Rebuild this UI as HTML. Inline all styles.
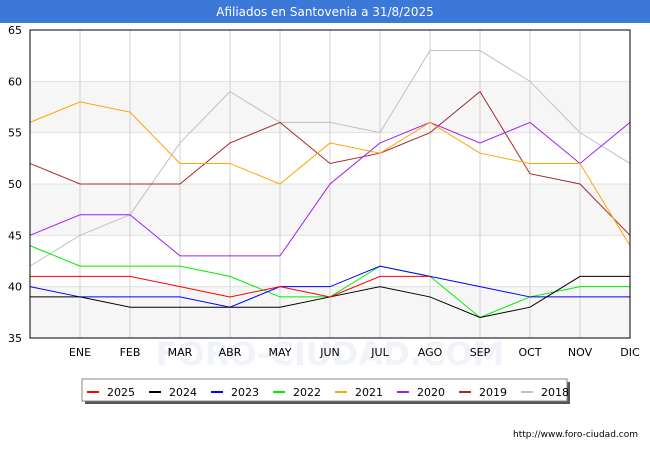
<!DOCTYPE html>
<html><head><meta charset="utf-8"><style>
body{margin:0;width:650px;height:450px;background:#fff;font-family:"DejaVu Sans",sans-serif;overflow:hidden}
</style></head><body>
<svg width="650" height="450" xmlns="http://www.w3.org/2000/svg" font-family="DejaVu Sans, sans-serif">
<rect x="0" y="0" width="650" height="23" fill="#3c78d8"/>
<text x="325" y="16" text-anchor="middle" fill="#fff" font-size="12">Afiliados en Santovenia a 31/8/2025</text>
<g id="plot"></g>
<text x="638" y="437" text-anchor="end" font-size="9" fill="#000">http://www.foro-ciudad.com</text>
</svg>
<script>
const months=["","ENE","FEB","MAR","ABR","MAY","JUN","JUL","AGO","SEP","OCT","NOV","DIC"];
const yTicks=[35,40,45,50,55,60,65];
const seriesNames=["2025","2024","2023","2022","2021","2020","2019","2018"];
const colors=["#ff0000","#000000","#0000ff","#00ee00","#ffa500","#a020f0","#a52a2a","#c0c0c0"];
const s2025=[41,41,41,40,39,40,39,41,41];
const s2024=[39,39,38,38,38,38,39,40,39,37,38,41,41];
const s2023=[40,39,39,39,38,40,40,42,41,40,39,39,39];
const s2022=[44,42,42,42,41,39,39,42,41,37,39,40,40];
const s2021=[56,58,57,52,52,50,54,53,56,53,52,52,44];
const s2020=[45,47,47,43,43,43,50,54,56,54,56,52,56];
const s2019=[52,50,50,50,54,56,52,53,55,59,51,50,45];
const s2018=[42,45,47,54,59,56,56,55,63,63,60,55,52];
const allSeries=[s2025,s2024,s2023,s2022,s2021,s2020,s2019,s2018];
const NS="http://www.w3.org/2000/svg";
const X0=30,X1=630,Y0=338,Y1=30;
const xs=i=>X0+i*(X1-X0)/12;
const ys=v=>Y0-(v-35)*(Y0-Y1)/30;
const g=document.getElementById('plot');
function mk(t,a){const e=document.createElementNS(NS,t);for(const k in a)e.setAttribute(k,a[k]);g.appendChild(e);return e;}
const wm=mk('text',{x:330,y:365,'text-anchor':'middle','font-size':32,fill:'#f1f3fa','font-weight':'bold'});
wm.textContent='FORO-CIUDAD.COM';


for(let i=0;i<yTicks.length-1;i+=2){
 const b=mk('rect',{x:X0,y:ys(yTicks[i+1]),width:X1-X0,height:ys(yTicks[i])-ys(yTicks[i+1]),fill:'#f6f6f6'});
 
 
}
yTicks.forEach(v=>{
 const l=mk('line',{x1:X0,x2:X1,y1:ys(v),y2:ys(v),stroke:'#e0e0e0'});
 
 
 const t=mk('text',{x:22,y:ys(v)+4,'text-anchor':'end','font-size':11,fill:'#000'});
 t.textContent=v;
 
 
});
months.forEach((m,i)=>{
 if(i>0){const l=mk('line',{x1:xs(i),x2:xs(i),y1:Y1,y2:Y0,stroke:'#d0d0d0'});
 
 }
 const t=mk('text',{x:xs(i),y:356,'text-anchor':'middle','font-size':11,fill:'#000'});
 t.textContent=m;
 
 
});
for(let k=allSeries.length-1;k>=0;k--){
 const p=mk('polyline',{points:allSeries[k].map((v,i)=>xs(i)+','+ys(v)).join(' '),fill:'none',stroke:colors[k],'stroke-width':1});
 
 
}
const fr=mk('rect',{x:X0,y:Y1,width:X1-X0,height:Y0-Y1,fill:'none',stroke:'#000'});


const sh=mk('rect',{x:85,y:382,width:485,height:22,fill:'#555'});


const lb=mk('rect',{x:82,y:379,width:485,height:22,fill:'#fff',stroke:'#888'});


seriesNames.forEach((n,k)=>{
 const x=87+k*62;
 const l=mk('line',{x1:x,x2:x+12,y1:392,y2:392,stroke:colors[k],'stroke-width':2});
 
 
 const t=mk('text',{x:x+20,y:396,'font-size':11,fill:'#000'});
 t.textContent=n;
 
 
});
</script>
</body></html>
